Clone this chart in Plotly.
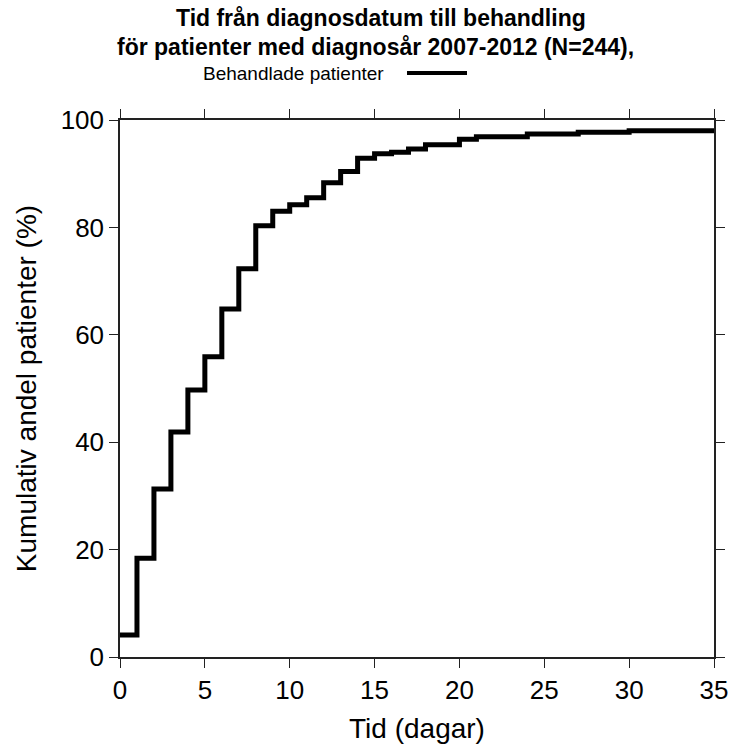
import plotly.graph_objects as go

# Step points: day (start of step) and cumulative percentage
days = [0, 1, 2, 3, 4, 5, 6, 7, 8, 9, 10, 11, 12, 13, 14, 15, 16, 17, 18, 20, 21, 24, 27, 30, 35]
pct = [4.1, 18.4, 31.3, 41.9, 49.7, 55.9, 64.8, 72.3, 80.3, 83.0, 84.2, 85.5, 88.3, 90.4,
       92.9, 93.7, 94.0, 94.6, 95.4, 96.4, 96.9, 97.4, 97.7, 98.0, 98.0]
x_ticks = [0, 5, 10, 15, 20, 25, 30, 35]
y_ticks = [0, 20, 40, 60, 80, 100]

title_lines = ["Tid från diagnosdatum till behandling",
               "för patienter med diagnosår 2007-2012 (N=244),"]
legend_label = "Behandlade patienter"

FONT = "Liberation Sans, Arial, sans-serif"

fig = go.Figure()
fig.add_trace(go.Scatter(x=days, y=pct, mode="lines", line=dict(color="black", width=5, shape="hv"),
                         name=legend_label, showlegend=False))

axis_common = dict(showline=True, linecolor="#222", linewidth=1.5, mirror="ticks",
                   ticks="outside", ticklen=9, tickwidth=1.3, tickcolor="#222",
                   showgrid=False, zeroline=False, automargin=False,
                   tickfont=dict(family=FONT, size=26, color="black"))

fig.update_layout(
    width=732, height=746,
    margin=dict(l=120, r=18, t=120, b=89, autoexpand=False),
    plot_bgcolor="white", paper_bgcolor="white",
    font=dict(family=FONT, color="black"),
    xaxis=dict(range=[0, 35], tickvals=x_ticks,
               title=dict(text="Tid (dagar)", font=dict(family=FONT, size=28), standoff=14),
               **axis_common),
    yaxis=dict(range=[0, 100], tickvals=y_ticks,
               title=dict(text="Kumulativ andel patienter (%)", font=dict(family=FONT, size=28), standoff=16),
               **axis_common),
)

fig.add_annotation(text="<b>" + title_lines[0] + "</b>", xref="paper", yref="paper",
                   x=(381 - 120) / 594, y=1 + (120 - 18) / 537, showarrow=False,
                   font=dict(family=FONT, size=23), xanchor="center", yanchor="middle")
fig.add_annotation(text="<b>" + title_lines[1] + "</b>", xref="paper", yref="paper",
                   x=(375 - 120) / 594, y=1 + (120 - 47) / 537, showarrow=False,
                   font=dict(family=FONT, size=23), xanchor="center", yanchor="middle")
fig.add_annotation(text=legend_label, xref="paper", yref="paper",
                   x=(201 - 120) / 594, y=1 + (120 - 73) / 537, showarrow=False,
                   font=dict(family=FONT, size=19), xanchor="left", yanchor="middle")
fig.add_shape(type="line", xref="paper", yref="paper",
              x0=(407 - 120) / 594, x1=(467 - 120) / 594,
              y0=1 + (120 - 73) / 537, y1=1 + (120 - 73) / 537,
              line=dict(color="black", width=4))

fig.write_html("out.html")
